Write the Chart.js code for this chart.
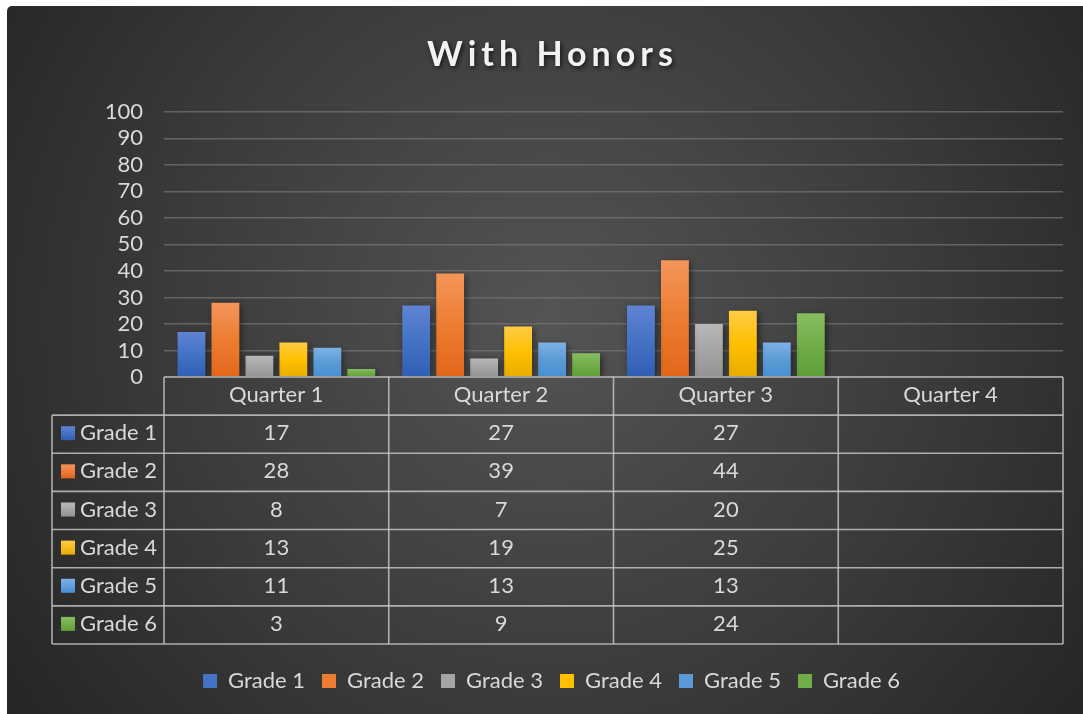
<!DOCTYPE html>
<html><head><meta charset="utf-8">
<script src="https://cdn.jsdelivr.net/npm/chart.js@4.4.1/dist/chart.umd.min.js"></script>
<style>html,body{margin:0;padding:0;background:#fff;overflow:hidden}#wrap{width:1083px;height:714px;position:relative}</style>
</head><body><div id="wrap"><canvas id="c" width="1083" height="714"></canvas></div>
<script>
const titleText = 'With Honors';
const categories = ['Quarter 1', 'Quarter 2', 'Quarter 3', 'Quarter 4'];
const seriesNames = ['Grade 1', 'Grade 2', 'Grade 3', 'Grade 4', 'Grade 5', 'Grade 6'];
const grade1 = [17, 27, 27, null];
const grade2 = [28, 39, 44, null];
const grade3 = [8, 7, 20, null];
const grade4 = [13, 19, 25, null];
const grade5 = [11, 13, 13, null];
const grade6 = [3, 9, 24, null];
const yTicks = [0, 10, 20, 30, 40, 50, 60, 70, 80, 90, 100];

const seriesValues = [grade1, grade2, grade3, grade4, grade5, grade6];
const palette = [
  ['#5f83d3', '#4472c4', '#2f5fb5'],
  ['#f4955a', '#ed7d31', '#e2661a'],
  ['#b8b8b8', '#a5a5a5', '#939393'],
  ['#ffcb45', '#ffc000', '#e8ad00'],
  ['#7db0e6', '#5b9bd5', '#4690d4'],
  ['#86bd62', '#70ad47', '#5e9f38']
];
const FONT = 'Lato, "Open Sans", sans-serif';
const TXT = '#d9d9d9';

function barFill(i) {
  return (c) => {
    const ch = c.chart;
    if (c.type !== 'data' || !c.parsed || c.parsed.y == null || !ch.scales.y) return palette[i][1];
    const ys = ch.scales.y;
    const yt = ys.getPixelForValue(c.parsed.y), yb = ys.getPixelForValue(0);
    if (!isFinite(yt) || !isFinite(yb) || yt === yb) return palette[i][1];
    const g = ch.ctx.createLinearGradient(0, yt, 0, yb);
    g.addColorStop(0, palette[i][0]);
    g.addColorStop(0.5, palette[i][1]);
    g.addColorStop(1, palette[i][2]);
    return g;
  };
}

const bgPlugin = {
  id: 'bg',
  beforeDraw(chart) {
    const ctx = chart.ctx, W = chart.width, H = chart.height;
    ctx.save();
    ctx.fillStyle = '#ffffff';
    ctx.fillRect(0, 0, W, H);
    const g = ctx.createRadialGradient(550, 320, 0, 550, 320, 680);
    g.addColorStop(0, '#545454');
    g.addColorStop(0.55, '#3b3b3b');
    g.addColorStop(1, '#242424');
    ctx.fillStyle = g;
    ctx.beginPath();
    if (ctx.roundRect) ctx.roundRect(7, 6, W - 7 + 10, H - 6 + 10, 5); else ctx.rect(7, 6, W, H);
    ctx.fill();
    // title text (space reserved by Chart.js title block), drawn with letter spacing and soft shadow
    const tb = chart.titleBlock;
    if (tb) {
      ctx.font = 'bold 34px ' + FONT;
      ctx.textAlign = 'center';
      ctx.textBaseline = 'middle';
      if ('letterSpacing' in ctx) ctx.letterSpacing = '5px';
      const cx = 550, cy = tb.top + tb.height / 2 - 1;
      ctx.shadowColor = 'rgba(0,0,0,0.7)';
      ctx.shadowBlur = 5;
      ctx.shadowOffsetX = 1.5;
      ctx.shadowOffsetY = 2.5;
      ctx.fillStyle = '#f2f2f2';
      ctx.fillText(titleText, cx + 2.5, cy);
    }
    ctx.restore();
  }
};

const shadowPlugin = {
  id: 'barShadow',
  beforeDatasetsDraw(chart) {
    const ctx = chart.ctx;
    ctx.save();
    ctx.shadowColor = 'rgba(0,0,0,0.55)';
    ctx.shadowBlur = 7;
    ctx.shadowOffsetX = 2;
    ctx.shadowOffsetY = 2;
  },
  afterDatasetsDraw(chart) { chart.ctx.restore(); }
};

const tablePlugin = {
  id: 'dataTable',
  afterDraw(chart) {
    const ctx = chart.ctx, ca = chart.chartArea, xs = chart.scales.x;
    const n = categories.length;
    const colW = (ca.right - ca.left) / n;
    const top = ca.bottom;
    const rowH = 38.14;
    const rows = seriesNames.length + 1;
    const labelLeft = 52;
    ctx.save();
    ctx.strokeStyle = 'rgba(195,195,195,0.85)';
    ctx.lineWidth = 1.6;
    const line = (x1, y1, x2, y2) => { ctx.beginPath(); ctx.moveTo(x1, y1); ctx.lineTo(x2, y2); ctx.stroke(); };
    line(ca.left, top, ca.right, top);
    for (let i = 0; i <= n; i++) {
      const xx = ca.left + i * colW;
      line(xx, top, xx, top + rows * rowH);
    }
    for (let r = 1; r <= rows; r++) {
      const y = top + r * rowH;
      line(labelLeft, y, ca.right, y);
    }
    line(labelLeft, top + rowH, labelLeft, top + rows * rowH);
    ctx.fillStyle = TXT;
    ctx.font = '22px ' + FONT;
    ctx.textBaseline = 'middle';
    ctx.textAlign = 'center';
    categories.forEach((c, i) => ctx.fillText(c, xs.getPixelForValue(i), top + rowH / 2 - 1));
    seriesNames.forEach((s, r) => {
      const yc = top + (r + 1.5) * rowH - 1;
      const g = ctx.createLinearGradient(0, yc - 7, 0, yc + 7);
      g.addColorStop(0, palette[r][0]);
      g.addColorStop(1, palette[r][2]);
      ctx.fillStyle = g;
      ctx.fillRect(61, yc - 7, 14, 14);
      ctx.fillStyle = TXT;
      ctx.textAlign = 'left';
      ctx.fillText(s, 80, yc);
      ctx.textAlign = 'center';
      seriesValues[r].forEach((v, i) => {
        if (v != null) ctx.fillText(String(v), xs.getPixelForValue(i), yc);
      });
    });
    ctx.restore();
  }
};

new Chart(document.getElementById('c'), {
  type: 'bar',
  data: {
    labels: categories,
    datasets: seriesNames.map((name, i) => ({
      label: name,
      data: seriesValues[i],
      backgroundColor: barFill(i),
      borderWidth: 0,
      categoryPercentage: 0.907,
      barPercentage: 0.82
    }))
  },
  options: {
    responsive: false,
    animation: false,
    devicePixelRatio: 1,
    layout: { padding: { left: 40, right: 20, top: 0, bottom: 12 } },
    plugins: {
      tooltip: { enabled: false },
      title: {
        display: true,
        text: titleText,
        color: 'rgba(0,0,0,0)',
        font: { family: FONT, size: 34, weight: 'bold' },
        padding: { top: 34, bottom: 37 }
      },
      legend: {
        position: 'bottom',
        labels: {
          color: TXT,
          font: { family: FONT, size: 22 },
          boxWidth: 14,
          boxHeight: 14,
          padding: 17,
          generateLabels: (chart) => chart.data.datasets.map((d, i) => ({
            text: d.label, fillStyle: palette[i][1], strokeStyle: 'rgba(0,0,0,0)', lineWidth: 0,
            datasetIndex: i, fontColor: TXT, hidden: false
          }))
        }
      }
    },
    scales: {
      x: {
        grid: { display: false, drawTicks: false },
        border: { display: false },
        ticks: { display: false },
        afterFit: (s) => { s.height = 276; }
      },
      y: {
        min: 0, max: 100,
        afterBuildTicks: (s) => { s.ticks = yTicks.map(v => ({ value: v })); },
        grid: { color: 'rgba(115,115,115,0.75)', lineWidth: 1.5, drawTicks: false },
        border: { display: false },
        ticks: { color: TXT, font: { family: FONT, size: 22 }, padding: 21, autoSkip: false },
        afterFit: (s) => { s.width = 124; }
      }
    }
  },
  plugins: [bgPlugin, shadowPlugin, tablePlugin]
});
</script>
</body></html>
